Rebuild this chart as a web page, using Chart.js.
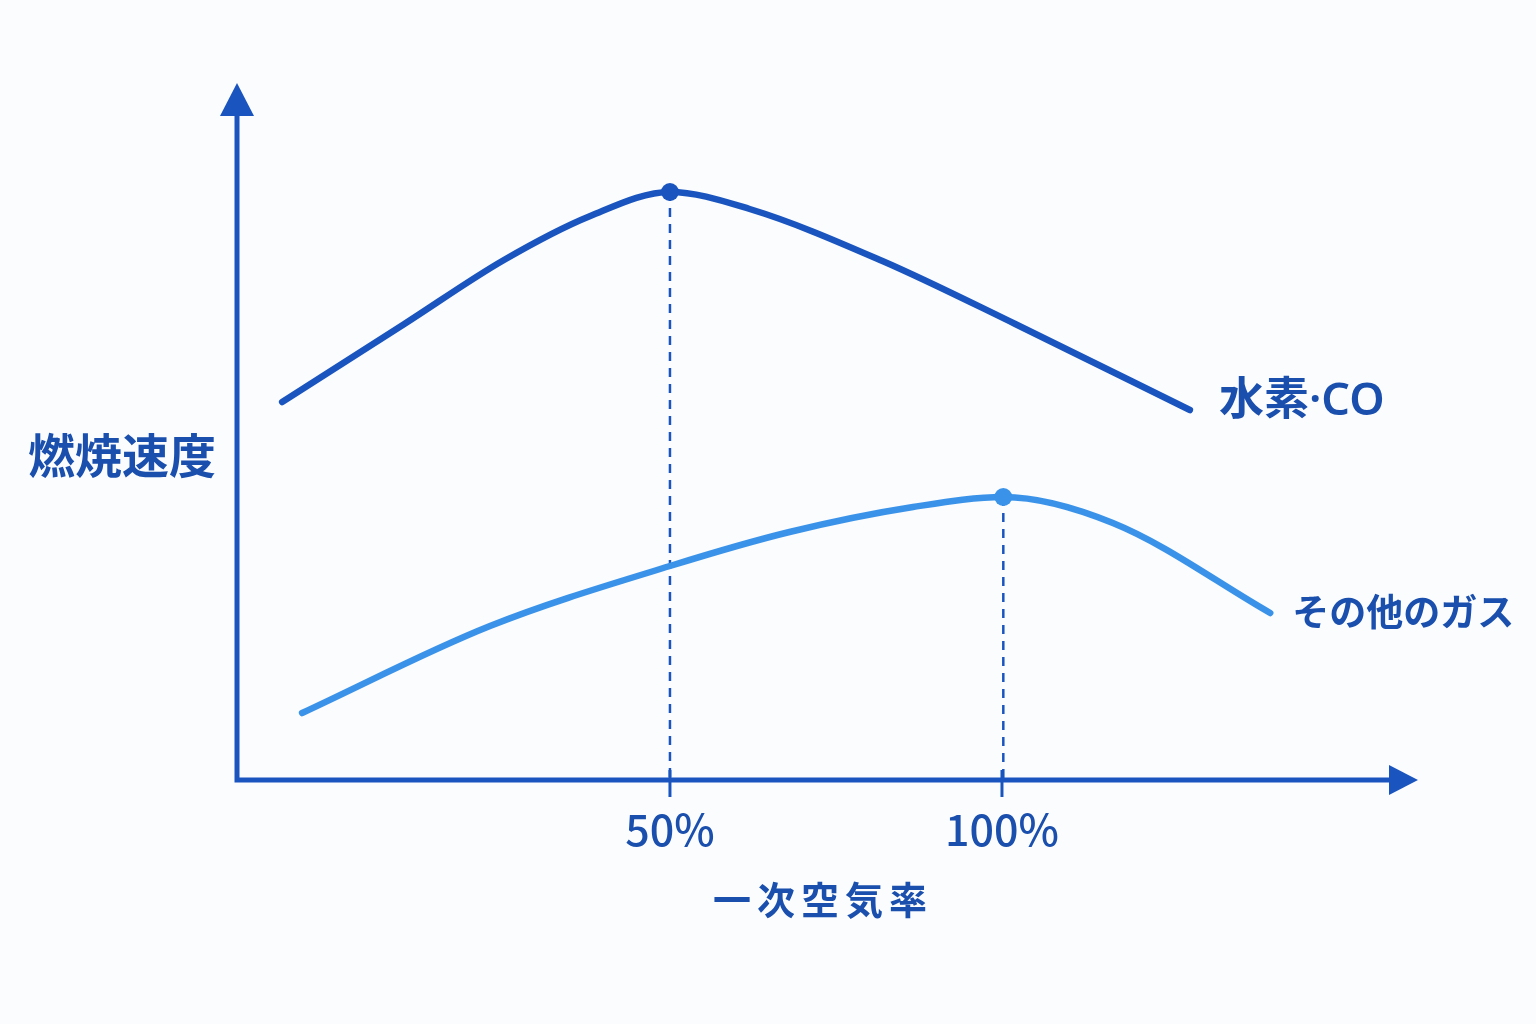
<!DOCTYPE html>
<html>
<head>
<meta charset="utf-8">
<script src="https://cdn.jsdelivr.net/npm/chart.js@4.4.1/dist/chart.umd.min.js"></script>
<style>
  html, body { margin: 0; padding: 0; background: #fbfcfe; }
  #wrap { width: 1536px; height: 1024px; }
</style>
</head>
<body>
<div id="wrap"><canvas id="c" width="1536" height="1024"></canvas></div>
<script>
// ---- data ----
const seriesNames = ['水素·CO', 'その他のガス'];
const h2coX = [-8.4, 10, 25, 38, 50, 62, 82, 102, 128.3];
const h2coY = [37.8, 45.6, 52.0, 56.4, 58.8, 57.1, 51.9, 45.6, 37.0];
const otherX = [-5.4, 22.9, 50, 68, 86.6, 100.2, 116.7, 140.4];
const otherY = [6.7, 15.4, 21.4, 24.8, 27.3, 28.3, 25.7, 16.7];
const peakIndex = [4, 5];
const tickValues = [50, 100];
const tickLabels = ['50%', '100%'];
const xTitle = '一次空気率';
const yTitle = '燃焼速度';

// ---- styles ----
const DARK = '#1a55bf';
const LIGHT = '#3b93e9';
const TEXT = '#1a4fae';
const FONT = '"Noto Sans CJK JP", "Noto Sans", sans-serif';
const LABEL_FONT = '"Noto Sans", "Noto Sans CJK JP", sans-serif';

function pts(xs, ys) { return xs.map((x, i) => ({ x: x, y: ys[i] })); }

const overlay = {
  id: 'overlay',
  beforeDatasetsDraw(chart) {
    const ctx = chart.ctx;
    const xs = chart.scales.x, ys = chart.scales.y;
    const left = chart.chartArea.left, right = chart.chartArea.right;
    const top = chart.chartArea.top, bottom = chart.chartArea.bottom;
    const x0 = left, y0 = bottom;
    ctx.save();
    // dashed drop lines from the peaks
    ctx.strokeStyle = DARK;
    ctx.lineWidth = 2.5;
    ctx.setLineDash([9, 7]);
    chart.data.datasets.forEach((ds, di) => {
      const p = ds.data[peakIndex[di]];
      const px = xs.getPixelForValue(p.x);
      const py = ys.getPixelForValue(p.y);
      ctx.beginPath();
      ctx.moveTo(px, py);
      ctx.lineTo(px, y0);
      ctx.stroke();
    });
    ctx.setLineDash([]);
    // tick marks
    ctx.lineWidth = 3;
    tickValues.forEach(v => {
      const px = xs.getPixelForValue(v);
      ctx.beginPath();
      ctx.moveTo(px, y0 - 10);
      ctx.lineTo(px, y0 + 17);
      ctx.stroke();
    });
    // axes
    ctx.lineWidth = 5;
    ctx.lineCap = 'butt';
    ctx.beginPath();
    ctx.moveTo(x0, y0 + 2.5);
    ctx.lineTo(x0, top + 30);
    ctx.moveTo(x0 - 2.5, y0);
    ctx.lineTo(right - 26, y0);
    ctx.stroke();
    ctx.fillStyle = DARK;
    // y arrow
    ctx.beginPath();
    ctx.moveTo(x0, top);
    ctx.lineTo(x0 - 17, top + 33);
    ctx.lineTo(x0 + 17, top + 33);
    ctx.closePath();
    ctx.fill();
    // x arrow
    ctx.beginPath();
    ctx.moveTo(right, y0);
    ctx.lineTo(right - 29, y0 - 15);
    ctx.lineTo(right - 29, y0 + 15);
    ctx.closePath();
    ctx.fill();
    ctx.restore();
  },
  afterDraw(chart) {
    const ctx = chart.ctx;
    const xs = chart.scales.x, ys = chart.scales.y;
    const y0 = chart.chartArea.bottom;
    ctx.save();
    ctx.fillStyle = TEXT;
    // tick labels
    ctx.font = '500 43px ' + FONT;
    ctx.textAlign = 'center';
    ctx.textBaseline = 'middle';
    tickValues.forEach((v, i) => {
      ctx.fillText(tickLabels[i], xs.getPixelForValue(v), y0 + 50);
    });
    // x title
    ctx.font = '600 38px ' + FONT;
    if ('letterSpacing' in ctx) ctx.letterSpacing = '6px';
    ctx.fillText(xTitle, 823, y0 + 120);
    if ('letterSpacing' in ctx) ctx.letterSpacing = '0px';
    // y title
    ctx.font = '600 47px ' + FONT;
    ctx.textAlign = 'left';
    ctx.fillText(yTitle, 28, 455);
    // series labels at line ends
    const offs = [[29, -8, 45], [22, -1, 37]];
    chart.data.datasets.forEach((ds, di) => {
      const last = ds.data[ds.data.length - 1];
      const px = xs.getPixelForValue(last.x) + offs[di][0];
      const py = ys.getPixelForValue(last.y) + offs[di][1];
      ctx.font = '600 ' + offs[di][2] + 'px ' + (di === 0 ? LABEL_FONT : FONT);
      ctx.fillText(seriesNames[di], px, py);
    });
    ctx.restore();
  }
};

const radiusFor = (di) => (c) => (c.dataIndex === peakIndex[di] ? 9 : 0);

new Chart(document.getElementById('c'), {
  type: 'line',
  data: {
    datasets: [
      {
        label: seriesNames[0],
        data: pts(h2coX, h2coY),
        borderColor: DARK,
        backgroundColor: DARK,
        borderWidth: 6.5,
        borderCapStyle: 'round',
        cubicInterpolationMode: 'monotone',
        pointRadius: radiusFor(0),
        pointBorderWidth: 0,
        pointBackgroundColor: DARK,
        clip: false
      },
      {
        label: seriesNames[1],
        data: pts(otherX, otherY),
        borderColor: LIGHT,
        backgroundColor: LIGHT,
        borderWidth: 6.5,
        borderCapStyle: 'round',
        cubicInterpolationMode: 'monotone',
        pointRadius: radiusFor(1),
        pointBorderWidth: 0,
        pointBackgroundColor: LIGHT,
        clip: false
      }
    ]
  },
  options: {
    responsive: false,
    animation: false,
    devicePixelRatio: 1,
    layout: { padding: { left: 237, right: 118, top: 83, bottom: 244 } },
    plugins: { legend: { display: false }, tooltip: { enabled: false } },
    scales: {
      x: { type: 'linear', min: -15.2, max: 162.65, display: false },
      y: { type: 'linear', min: 0, max: 69.7, display: false }
    }
  },
  plugins: [overlay]
});
</script>
</body>
</html>
